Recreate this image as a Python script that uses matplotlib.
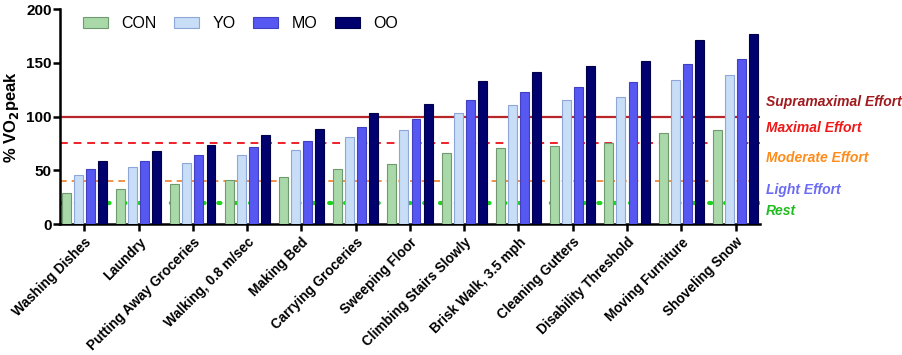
import matplotlib.pyplot as plt
import numpy as np

plt.rcParams['font.family'] = ['Liberation Sans', 'DejaVu Sans']

activities = ['Washing Dishes', 'Laundry', 'Putting Away Groceries', 'Walking, 0.8 m/sec',
              'Making Bed', 'Carrying Groceries', 'Sweeping Floor', 'Climbing Stairs Slowly',
              'Brisk Walk, 3.5 mph', 'Cleaning Gutters', 'Disability Threshold',
              'Moving Furniture', 'Shoveling Snow']
groups = ['CON', 'YO', 'MO', 'OO']
con = [29, 33, 37, 41, 44, 51, 56, 66, 70.5, 73, 75, 85, 88]
yo = [46, 53, 57, 64.5, 69, 81, 88, 103.5, 110.5, 115.5, 118.5, 134, 138.5]
mo = [51, 59, 64, 72, 77, 90, 98, 115.5, 123, 128, 132.5, 149, 154]
oo = [59, 68, 74, 82.5, 88.5, 103, 112, 133, 142, 147.5, 152, 171, 177]

levels = [100, 75, 40, 20]
level_names = ['Supramaximal Effort', 'Maximal Effort', 'Moderate Effort', 'Light Effort', 'Rest']

fills = ['#a9d9a9', '#c8ddf6', '#5757f2', '#00006f']
edges = ['#6f9a6f', '#8fa6d8', '#4040c0', '#00004a']

fig = plt.figure(figsize=(9.02, 3.55), dpi=100)
ax = fig.add_axes([0.0665, 0.369, 0.776, 0.605])

x = np.arange(len(activities))
pitch = 0.222
width = 0.165
for i, (vals, name) in enumerate(zip([con, yo, mo, oo], groups)):
    ax.bar(x + (i - 1.5) * pitch, vals, width, color=fills[i], edgecolor=edges[i],
           linewidth=0.8, label=name, zorder=3)

# effort reference lines
ax.axhline(levels[0], color='#b8262a', lw=1.6, zorder=1)
ax.axhline(levels[1], color='#f0202a', lw=1.4, ls=(0, (4, 3)), zorder=1)
ax.axhline(levels[2], color='#f07e2a', lw=1.2, ls=(0, (4, 3)), zorder=1)
ax.axhline(levels[3], color='#1ed21e', lw=3, ls=(0, (0.5, 3.3)), zorder=1,
           dash_capstyle='round')

label_colors = ['#a01a1e', '#f01818', '#ff8c1a', '#6b6bf5', '#22bb22']
label_y = [113.5, 89, 61, 32, 12]
for name, yv, c in zip(level_names, label_y, label_colors):
    ax.text(1.008, yv / 200, name, transform=ax.transAxes, color=c,
            fontsize=10, fontweight='bold', style='italic', va='center', ha='left')

ax.set_xlim(-0.45, len(activities) - 0.55)
ax.set_ylim(0, 200)
ax.set_yticks([0, 50, 100, 150, 200])
ax.set_xticks(x)
ax.set_xticklabels(activities, rotation=45, ha='right', rotation_mode='anchor',
                   fontsize=9.8, fontweight='bold')
for lab in ax.get_yticklabels():
    lab.set_fontweight('bold')
    lab.set_fontsize(11)
ax.set_ylabel('% VO$_\\mathbf{2}$peak', fontsize=12, fontweight='bold', labelpad=4)

for s in ['top', 'right']:
    ax.spines[s].set_visible(False)
for s in ['left', 'bottom']:
    ax.spines[s].set_linewidth(1.8)
ax.tick_params(axis='both', width=1.8, length=5)
ax.tick_params(axis='x', pad=3)
ax.tick_params(axis='y', pad=1)

ax.legend(loc='upper left', bbox_to_anchor=(0.012, 1.035), ncol=4, frameon=False,
          fontsize=11.5, handlelength=1.6, handleheight=0.75, columnspacing=1.1,
          handletextpad=0.8)

fig.savefig('out.png', dpi=100)
